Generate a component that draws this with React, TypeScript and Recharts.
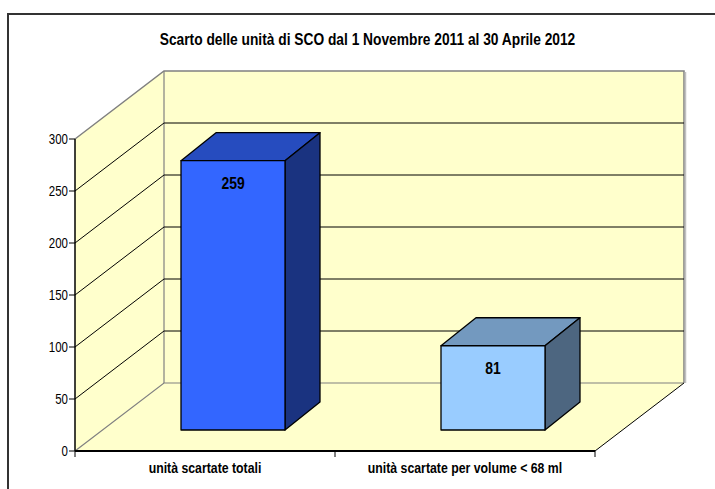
import React from 'react';
import {
  BarChart,
  Bar,
  XAxis,
  YAxis,
  CartesianGrid,
  ReferenceArea,
  LabelList,
} from 'recharts';

const TITLE = 'Scarto delle unità di SCO dal 1 Novembre 2011 al 30 Aprile 2012';
const CATEGORIES = ['unità scartate totali', 'unità scartate per volume < 68 ml'];
const VALUES = [259, 81];
const Y_TICKS = [0, 50, 100, 150, 200, 250, 300];

const data = CATEGORIES.map((name, i) => ({ name, value: VALUES[i] }));

// no Arial Narrow here: Liberation Sans squeezed horizontally
const FONT = "'Liberation Sans', Arial, sans-serif";
const SQUEEZE = 0.82;

// plot box = plane of the bars' front faces
const W = 715;
const H = 489;
const MARGIN = { top: 118, right: 92, left: 73, bottom: 29 };
const Y_W = 30;
const X_H = 30;
const PLOT_L = MARGIN.left + Y_W;
const PLOT_T = MARGIN.top;

// shifts from the bar plane to the front and back of the 3D box
const FX = -28, FY = 21;
const BX = 61, BY = -47;
// depth of a bar
const DX = 35, DY = 28;

const WALL = '#FFFFCC';
const EDGE = '#808080';

const BAR_COLORS = [
  { front: '#3366FF', top: '#264CBF', side: '#1A3380' },
  { front: '#99CCFF', top: '#7399BF', side: '#4D6680' },
];

function pts(list: number[][]) {
  return list.map((p) => p.join(',')).join(' ');
}

function NarrowText(props: any) {
  const { x, y, anchor, size, bold, children, dy } = props;
  return (
    <g transform={`translate(${x},${y}) scale(${SQUEEZE},1)`}>
      <text
        x={0}
        y={0}
        dy={dy}
        textAnchor={anchor}
        fontFamily={FONT}
        fontSize={size}
        fontWeight={bold ? 'bold' : 'normal'}
        fill="#000"
      >
        {children}
      </text>
    </g>
  );
}

// side wall, back wall and floor, built from the reference area rect
function Walls(props: any) {
  const { x, y, width, height } = props;
  const l = x, r = x + width, t = y, b = y + height;
  const fl = l + FX, fr = r + FX, ft = t + FY, fb = b + FY;
  const bl = l + BX, br = r + BX, bt = t + BY, bb = b + BY;
  const mid = (fl + fr) / 2;
  return (
    <g>
      <polygon points={pts([[fl, fb], [fl, ft], [bl, bt], [bl, bb]])} fill={WALL} />
      <polygon points={pts([[bl, bt], [br, bt], [br, bb], [bl, bb]])} fill={WALL} />
      <polygon points={pts([[fl, fb], [fr, fb], [br, bb], [bl, bb]])} fill={WALL} />
      <polyline points={pts([[fl, ft], [bl, bt], [br, bt], [br, bb]])} fill="none" stroke={EDGE} strokeWidth={1.5} />
      <line x1={br + 1.5} y1={bt + 1} x2={br + 1.5} y2={bb} stroke="#C0C0C0" strokeWidth={1.5} />
      <polyline points={pts([[fl, fb], [bl, bb], [br, bb]])} fill="none" stroke={EDGE} strokeWidth={1.2} />
      <line x1={bl} y1={bt} x2={bl} y2={bb} stroke={EDGE} strokeWidth={1.2} />
      <line x1={fr} y1={fb} x2={br} y2={bb} stroke="#000" strokeWidth={1} />
      <line x1={fl} y1={ft} x2={fl} y2={fb} stroke="#000" strokeWidth={1.5} />
      <line x1={fl} y1={fb} x2={fr} y2={fb} stroke="#000" strokeWidth={2} />
      {[fl, mid, fr].map((tx) => (
        <line key={tx} x1={tx} y1={fb} x2={tx} y2={fb + 6} stroke="#000" strokeWidth={1} />
      ))}
    </g>
  );
}

function GridLine(props: any) {
  const { x1, x2, y1 } = props;
  const edge = Math.abs(y1 - PLOT_T) < 1 || Math.abs(y1 - (H - MARGIN.bottom - X_H)) < 1;
  if (edge) return <g />;
  return (
    <polyline
      points={pts([[x1 + FX, y1 + FY], [x1 + BX, y1 + BY], [x2 + BX, y1 + BY]])}
      fill="none"
      stroke="#000"
      strokeWidth={1}
    />
  );
}

function YTick(props: any) {
  const { y, payload } = props;
  const fx = PLOT_L + FX;
  const yy = y + FY;
  return (
    <g>
      <line x1={fx - 6} y1={yy} x2={fx} y2={yy} stroke="#000" strokeWidth={1} />
      <NarrowText x={fx - 7} y={yy} dy="0.36em" anchor="end" size={14}>
        {payload.value}
      </NarrowText>
    </g>
  );
}

function XTick(props: any) {
  const { x, payload } = props;
  return (
    <NarrowText x={x + FX} y={H - MARGIN.bottom - X_H + FY + 22} anchor="middle" size={15} bold>
      {payload.value}
    </NarrowText>
  );
}

function Bar3D(props: any) {
  const { x, y, width: w, height: h, index } = props;
  const c = BAR_COLORS[index % BAR_COLORS.length];
  return (
    <g stroke="#000" strokeWidth={1.3} strokeLinejoin="round">
      <polygon points={pts([[x, y], [x + DX, y - DY], [x + w + DX, y - DY], [x + w, y]])} fill={c.top} />
      <polygon points={pts([[x + w, y], [x + w + DX, y - DY], [x + w + DX, y + h - DY], [x + w, y + h]])} fill={c.side} />
      <rect x={x} y={y} width={w} height={h} fill={c.front} />
    </g>
  );
}

function ValueLabel(props: any) {
  const { x, y, width, value } = props;
  return (
    <NarrowText x={x + width / 2} y={y + 22} dy="0.36em" anchor="middle" size={17} bold>
      {value}
    </NarrowText>
  );
}

export default function App() {
  return (
    <div style={s.page}>
      <div style={s.frame} />
      <div style={s.title}>{TITLE}</div>
      <div style={s.chart}>
        <BarChart width={W} height={H} data={data} margin={MARGIN} barSize={104}>
          <ReferenceArea y1={0} y2={300} shape={(p: any) => <Walls {...p} />} zIndex={-150} ifOverflow="visible" />
          <CartesianGrid vertical={false} horizontal={(p: any) => <GridLine key={p.key ?? p.y1} {...p} />} />
          <XAxis
            dataKey="name"
            height={X_H}
            axisLine={false}
            tickLine={false}
            tick={<XTick />}
            interval={0}
          />
          <YAxis
            width={Y_W}
            domain={[0, 300]}
            ticks={Y_TICKS}
            axisLine={false}
            tickLine={false}
            tick={<YTick />}
          />
          <Bar dataKey="value" shape={<Bar3D />} isAnimationActive={false}>
            <LabelList dataKey="value" content={<ValueLabel />} />
          </Bar>
        </BarChart>
      </div>
    </div>
  );
}

const s: Record<string, React.CSSProperties> = {
  page: {
    position: 'absolute',
    left: 0,
    top: 0,
    width: W,
    height: H,
    overflow: 'hidden',
    background: '#FFFFFF',
  },
  frame: {
    position: 'absolute',
    left: 7,
    top: 13,
    width: 760,
    height: 540,
    border: '2px solid #333',
    boxSizing: 'border-box',
  },
  title: {
    position: 'absolute',
    left: 0,
    top: 31,
    width: 735,
    textAlign: 'center',
    fontFamily: FONT,
    fontSize: 16,
    fontWeight: 'bold',
    lineHeight: '18px',
    color: '#000',
    transform: 'scaleX(0.86)',
    transformOrigin: '367.5px 0',
    whiteSpace: 'nowrap',
  },
  chart: {
    position: 'absolute',
    left: 0,
    top: 0,
  },
};
